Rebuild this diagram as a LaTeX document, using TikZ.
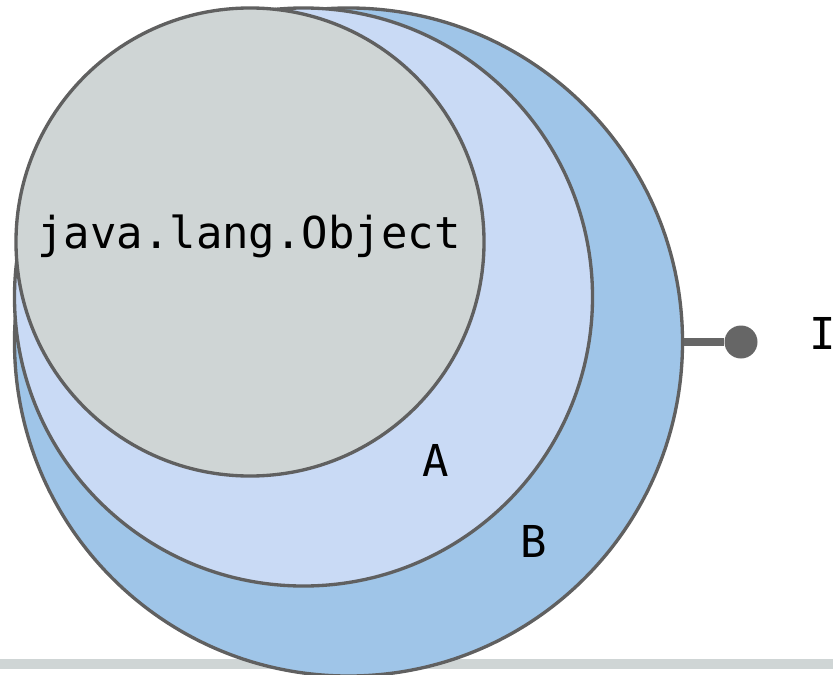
\documentclass[tikz,border=0pt]{standalone}
\usepackage{fontspec}
\setmonofont{DejaVu Sans Mono}
\usepackage{tikz}
\usetikzlibrary{positioning,shapes}

\definecolor{objgray}{HTML}{CFD5D5}
\definecolor{setA}{HTML}{C9DAF5}
\definecolor{setB}{HTML}{9FC5E8}
\definecolor{rim}{HTML}{606060}
\definecolor{pincolor}{HTML}{666666}

\begin{document}
\begin{tikzpicture}[x=0.03cm,y=-0.03cm]
          %% NESTED SETS

          \tikzstyle{every node}=[font=\ttfamily\fontsize{37.5}{44}\selectfont]
          \tikzstyle{set}=[circle,draw=rim,line width=0.1cm,inner sep=0pt]
          \useasboundingbox (0,0) rectangle (833,675);

          % bande du bas
          \fill[objgray] (0,659) rectangle (833,669);

          % ensembles
          \node[set,fill=setB,minimum size=20.04cm] (B) at (348.5,342) {};
          \node[set,fill=setA,minimum size=17.34cm] (A) at (303.5,297) {};
          \node[set,fill=objgray,minimum size=14.04cm] (Obj) at (250,242) {};

          % etiquettes
          \node (ObjLabel) at (249,236) {java.lang.Object};
          \node (ALabel) at (436,460) {A};
          \node (BLabel) at (534,541) {B};

          % interface
          \node[circle,fill=pincolor,minimum size=0.99cm,inner sep=0pt] (dot) at (741,342) {};
          \draw[draw=pincolor,line width=0.25cm] (B.east) -- (dot);
          \node (ILabel) at (823,333) {I};
\end{tikzpicture}
\end{document}
